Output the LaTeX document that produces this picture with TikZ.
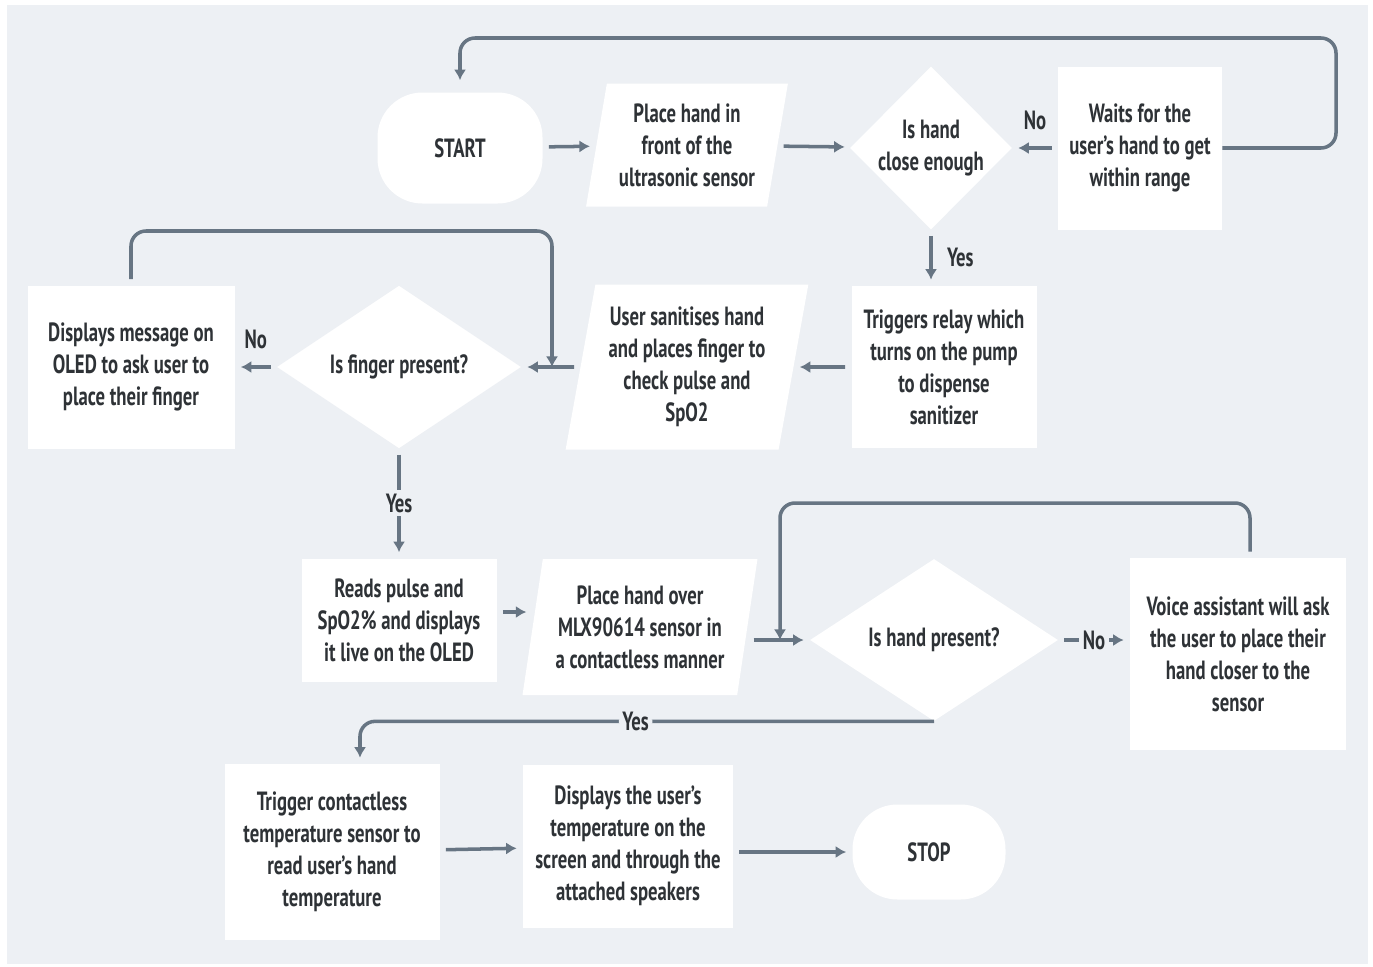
\documentclass[tikz,border=0pt]{standalone}
\usepackage{fontspec}
\setmainfont{PT Sans}[FakeStretch=0.71]
\usetikzlibrary{shapes.geometric,arrows.meta}
\definecolor{bgc}{HTML}{EDF0F4}
\definecolor{linec}{HTML}{677583}
\definecolor{txtc}{HTML}{2E3236}

\begin{document}
\begin{tikzpicture}[x=0.02cm,y=-0.02cm,
	font=\bfseries\fontsize{15}{18.2}\selectfont, text=txtc,
	sz/.style 2 args={minimum width=#1*0.02cm,minimum height=#2*0.02cm},
	box/.style={fill=white,align=center,inner sep=0pt},
	term/.style={box,rounded corners=0.9cm},
	para/.style={box,trapezium,trapezium left angle=78,trapezium right angle=102,trapezium stretches=true},
	dec/.style={box,diamond},
	flow/.style={color=linec,line width=2pt,-{Latex[length=6pt,width=7pt]},shorten >=0.12cm,shorten <=0.12cm},
	lbl/.style={inner sep=1pt,text=txtc},
	cut/.style={lbl,fill=bgc,inner sep=2pt}]
	\fill[white] (0,0) rectangle (1373,967);
	\fill[bgc] (7,5) rectangle (1368,964);

	\node[term,sz={165}{111}] at (460,148)(start){START};
	\node[para,sz={203}{123}] at (687,145)(p1){Place hand in\\front of the\\ultrasonic sensor};
	\node[dec,sz={158}{163}] at (931,148)(d1){Is hand\\close enough};
	\node[box,sz={164}{163}] at (1140,148)(waits){Waits for the\\user's hand to get\\within range};

	\node[box,sz={185}{162}] at (944,367)(trig){Triggers relay which\\turns on the pump\\to dispense\\sanitizer};
	\node[para,sz={243}{165}] at (687,367)(san){User sanitises hand\\and places finger to\\check pulse and\\SpO2};
	\node[dec,sz={244}{160}] at (399,367)(d2){Is finger present?};
	\node[box,sz={207}{163}] at (131,367)(msg){Displays message on\\OLED to ask user to\\place their finger};

	\node[box,sz={195}{123}] at (399,620)(reads){Reads pulse and\\SpO2\% and displays\\it live on the OLED};
	\node[para,sz={235}{136}] at (640,627)(p2){Place hand over\\MLX90614 sensor in\\a contactless manner};
	\node[dec,sz={248}{162}] at (934,640)(d3){Is hand present?};
	\node[box,sz={216}{192}] at (1238,654)(voice){Voice assistant will ask\\the user to place their\\hand closer to the\\sensor};

	\node[box,sz={215}{176}] at (332,852)(tc){Trigger contactless\\temperature sensor to\\read user's hand\\temperature};
	\node[box,sz={210}{163}] at (628,846)(show){Displays the user's\\temperature on the\\screen and through the\\attached speakers};
	\node[term,sz={153}{95}] at (929,852)(stop){STOP};

	\coordinate (j1) at (552,367);
	\coordinate (j2) at (780,640);

	\path[flow] (start)edge(p1) (p1)edge(d1)
		(waits)edge node[lbl,above=0.3cm]{No}(d1)
		(d1.south)edge node[lbl,right=0.25cm]{Yes}(d1.south |- trig.north)
		(trig)edge(san) (san)edge(d2)
		(d2)edge node[lbl,above=0.3cm]{No}(msg)
		(d2)edge node[cut]{Yes}(reads)
		([yshift=0.16cm]reads.east)edge([yshift=0.16cm]reads.east -| p2.west)
		(d3.west -| p2.east)edge(d3)
		(d3.east)edge node[cut]{No}(d3.east -| voice.west)
		(tc)edge(show)
		(stop.west -| show.east)edge(stop);

	\draw[flow,rounded corners=0.3cm,shorten >=0.24cm,shorten <=0pt] (waits.east) -| (1336,38) -| (start.north);
	\draw[flow,rounded corners=0.3cm,shorten >=0pt] (msg.north) |- (552,231) -- (j1);
	\draw[flow,rounded corners=0.3cm,shorten >=0pt] ([xshift=0.24cm]voice.north) |- (780,503) -- (j2);
	\draw[flow,rounded corners=0.3cm,shorten <=0pt] (d3.south) -| node[cut,pos=0.26]{Yes}([xshift=0.56cm]tc.north);
\end{tikzpicture}
\end{document}
